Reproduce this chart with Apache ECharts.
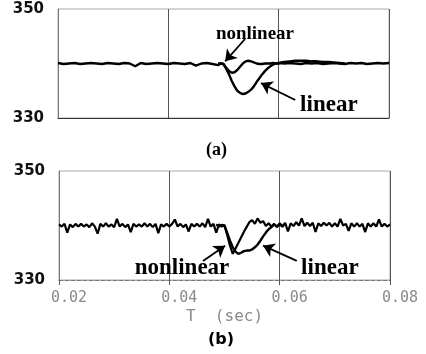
<!DOCTYPE html>
<html><head><meta charset="utf-8">
<script src="https://cdn.jsdelivr.net/npm/echarts@6/dist/echarts.min.js"></script>
<style>html,body{margin:0;padding:0;background:#fff}#c{width:426px;height:354px}</style>
</head><body><div id="c"></div>
<script>
// ---------- data ----------
var xTicks = [0.02, 0.04, 0.06, 0.08];
var yTicks = [330, 350];

// panel (a)
var tA = [0.020,0.021,0.022,0.023,0.024,0.025,0.026,0.027,0.028,0.029,
          0.030,0.031,0.032,0.033,0.034,0.035,0.036,0.037,0.038,0.039,
          0.040,0.041,0.042,0.043,0.044,0.045,0.046,0.047,0.048,0.049,
          0.0495,0.0500,0.0505,0.0510,0.0515,0.0520,0.0525,0.0530,0.0535,0.0540,
          0.0545,0.0550,0.0555,0.0560,0.0565,0.0570,0.0575,0.0580,0.0585,0.0590,
          0.0595,0.0600,0.0605,0.0610,
          0.062,0.063,0.064,0.065,0.066,0.067,0.068,0.069,0.070,0.071,
          0.072,0.073,0.074,0.075,0.076,0.077,0.078,0.079,0.080];
var nonlinA = [340.1,339.9,340.0,340.1,339.9,340.0,340.1,340.0,339.9,340.1,
               340.0,339.9,340.1,340.0,339.5,340.1,339.9,340.0,340.1,340.0,
               339.9,340.1,340.0,339.9,340.1,339.6,340.0,340.1,339.9,339.7,
               340.0,339.9,339.2,338.6,338.3,338.4,338.8,339.4,340.0,340.4,
               340.5,340.4,340.2,340.0,339.9,339.9,340.0,340.0,340.0,340.1,
               340.0,340.0,340.1,340.0,
               340.1,340.0,339.9,340.1,340.0,340.1,339.9,340.0,340.1,340.0,
               339.9,340.1,340.0,340.1,339.9,340.0,340.1,340.0,340.1];
var tLinA = [0.0490,0.0495,0.0500,0.0505,0.0510,0.0515,0.0520,0.0525,0.0530,0.0535,
             0.0540,0.0545,0.0550,0.0555,0.0560,0.0565,0.0570,0.0575,0.0580,0.0585,
             0.0590,0.0595,0.0600,0.0605,0.0610,
             0.062,0.063,0.064,0.065,0.066,0.067,0.068,0.069,0.070,0.071,0.072];
var linA = [340.0,340.0,339.9,339.0,338.0,336.8,335.8,335.0,334.6,334.4,
            334.5,334.8,335.2,335.8,336.6,337.3,338.0,338.6,339.1,339.5,
            339.8,340.0,340.1,340.2,340.3,
            340.4,340.5,340.5,340.5,340.4,340.4,340.3,340.3,340.2,340.1,340.0];

// panel (b)
var tB = [0.0200,0.0205,0.0210,0.0215,0.0220,0.0225,0.0230,0.0235,0.0240,0.0245,
          0.0250,0.0255,0.0260,0.0265,0.0270,0.0275,0.0280,0.0285,0.0290,0.0295,
          0.0300,0.0305,0.0310,0.0315,0.0320,0.0325,0.0330,0.0335,0.0340,0.0345,
          0.0350,0.0355,0.0360,0.0365,0.0370,0.0375,0.0380,0.0385,0.0390,0.0395,
          0.0400,0.0405,0.0410,0.0415,0.0420,0.0425,0.0430,0.0435,0.0440,0.0445,
          0.0450,0.0455,0.0460,0.0465,0.0470,0.0475,0.0480,0.0485,0.0490,0.0495,
          0.0500,0.0505,0.0510,0.0515,0.0520,0.0525,0.0530,0.0535,0.0540,0.0545,
          0.0550,0.0555,0.0560,0.0565,0.0570,0.0575,0.0580,0.0585,0.0590,0.0595,
          0.0600,0.0605,0.0610,0.0615,0.0620,0.0625,0.0630,0.0635,0.0640,0.0645,
          0.0650,0.0655,0.0660,0.0665,0.0670,0.0675,0.0680,0.0685,0.0690,0.0695,
          0.0700,0.0705,0.0710,0.0715,0.0720,0.0725,0.0730,0.0735,0.0740,0.0745,
          0.0750,0.0755,0.0760,0.0765,0.0770,0.0775,0.0780,0.0785,0.0790,0.0795,
          0.0800];
var nonlinB = [340.2,339.8,340.3,338.7,340.2,339.7,340.3,339.8,340.3,339.8,
               340.2,339.7,340.4,339.8,338.5,340.3,339.8,340.4,339.8,340.2,
               339.7,341.2,339.8,340.3,339.7,340.2,338.8,340.3,339.8,340.2,
               339.8,340.4,339.8,340.3,339.7,340.3,338.6,340.2,339.8,340.3,
               339.8,340.3,341.1,339.8,340.3,339.7,340.2,338.9,340.3,339.8,
               340.3,339.8,340.4,339.7,341.2,339.8,340.3,338.7,340.2,339.8,
               340.0,338.2,336.3,334.8,335.8,336.8,337.8,338.8,339.7,340.6,
               341.0,340.3,341.3,340.5,340.8,339.9,340.4,339.8,340.3,339.7,
               340.4,339.8,340.5,338.9,340.4,339.9,340.6,340.0,341.3,339.9,
               340.5,339.9,340.5,338.8,340.4,339.9,340.5,340.0,340.5,339.8,
               340.4,339.8,341.2,340.0,340.3,339.0,340.4,339.8,340.4,339.8,
               340.3,338.8,340.4,339.8,340.4,339.8,341.1,339.8,340.3,339.8,
               340.2];
var tLinB = [0.0485,0.0490,0.0495,0.0500,0.0505,0.0510,0.0515,0.0520,0.0525,0.0530,
             0.0535,0.0540,0.0545,0.0550,0.0555,0.0560,0.0565,0.0570,0.0575,0.0580,
             0.0585,0.0590,0.0595,0.0600,0.0605,0.0610];
var linB = [340.2,339.8,340.1,340.0,338.6,337.2,336.0,335.2,334.8,335.0,
            335.3,335.4,335.4,335.6,336.0,336.5,337.2,338.0,338.7,339.3,
            339.7,340.2,339.8,340.3,339.8,340.4];

// annotation anchors (data coordinates): [label, t, v, size]
var notesA = [['nonlinear', 0.0557, 345.4, 19], ['linear', 0.0691, 332.4, 23]];
var notesB = [['nonlinear', 0.0423, 332.2, 23], ['linear', 0.0691, 332.2, 23]];
// arrows: [tStart, vStart, tEnd, vEnd]
var arrowsA = [[0.0539, 344.5, 0.0503, 340.4], [0.0630, 333.3, 0.0568, 336.4]];
var arrowsB = [[0.0461, 333.5, 0.0501, 336.3], [0.0631, 333.5, 0.0570, 336.3]];

function pairs(t, v) { return t.map(function (x, i) { return [x, v[i]]; }); }
function arrowLines(a) {
  return a.map(function (r) { return [{ coord: [r[0], r[1]] }, { coord: [r[2], r[3]] }]; });
}
function notePoints(n) {
  return n.map(function (r) {
    return { coord: [r[1], r[2]], symbol: 'rect', symbolSize: 1,
      itemStyle: { color: 'rgba(0,0,0,0)' },
      label: { show: true, position: 'inside', formatter: r[0], color: '#000',
        fontFamily: 'Liberation Serif', fontWeight: 'bold', fontSize: r[3] } };
  });
}

var chart = echarts.init(document.getElementById('c'));
var yLabel = { show: true, fontFamily: 'DejaVu Sans', fontWeight: 'bold', fontSize: 15,
  color: '#111', margin: 14, customValues: yTicks };
function xAxisCfg(gi, showLabels) {
  return {
    type: 'value', gridIndex: gi, min: 0.02, max: 0.08, interval: 0.02,
    axisLine: { show: true, onZero: false, lineStyle: { color: gi === 0 ? '#333' : '#777', width: 1, type: gi === 0 ? 'solid' : 'dashed' } },
    axisTick: { show: gi === 1, length: 5, lineStyle: { color: '#555' } },
    splitLine: { show: true, lineStyle: { color: '#555', width: 1 } },
    axisLabel: { show: showLabels, fontFamily: 'DejaVu Sans Mono', fontSize: 15, color: '#8a8a8a',
      margin: 11, padding: [0, 0, 0, 20], formatter: function (v) { return v.toFixed(2); } },
    name: showLabels ? 'T  (sec)' : '', nameLocation: 'middle', nameGap: 29,
    nameTextStyle: { fontFamily: 'DejaVu Sans Mono', fontSize: 16, color: '#8a8a8a' }
  };
}
function yAxisCfg(gi) {
  return {
    type: 'value', gridIndex: gi, min: 330, max: 350, interval: 20,
    axisLine: { show: true, lineStyle: { color: '#777', width: 1 } },
    axisTick: { show: false },
    splitLine: { show: false },
    axisLabel: yLabel
  };
}
var lineCommon = { type: 'line', showSymbol: false, symbol: 'none', smooth: false,
  lineStyle: { color: '#000', width: 2.4 }, animation: false, z: 5 };
var mlCommon = { silent: true, symbol: ['none', 'arrow'], symbolSize: 11,
  lineStyle: { color: '#000', width: 1.8, type: 'solid' }, label: { show: false }, animation: false };

chart.setOption({
  animation: false,
  backgroundColor: '#fff',
  grid: [
    { left: 58, top: 9, width: 331, height: 109, show: true, borderColor: '#aaa', borderWidth: 1 },
    { left: 59, top: 171, width: 331, height: 109, show: true, borderColor: '#aaa', borderWidth: 1 }
  ],
  xAxis: [xAxisCfg(0, false), xAxisCfg(1, true)],
  yAxis: [yAxisCfg(0), yAxisCfg(1)],
  graphic: [
    { type: 'text', left: 222 - 16, top: 141, style: { text: '(a)', fontFamily: 'Liberation Serif', fontWeight: 'bold', fontSize: 18, fill: '#000' } },
    { type: 'text', left: 223 - 15, top: 332, style: { text: '(b)', fontFamily: 'DejaVu Sans', fontWeight: 'bold', fontSize: 16, fill: '#000' } }
  ],
  series: [
    Object.assign({}, lineCommon, { name: 'nonlinear (a)', xAxisIndex: 0, yAxisIndex: 0, data: pairs(tA, nonlinA),
      markLine: Object.assign({}, mlCommon, { data: arrowLines(arrowsA) }),
      markPoint: { silent: true, animation: false, data: notePoints(notesA) } }),
    Object.assign({}, lineCommon, { name: 'linear (a)', xAxisIndex: 0, yAxisIndex: 0, data: pairs(tLinA, linA) }),
    Object.assign({}, lineCommon, { name: 'nonlinear (b)', xAxisIndex: 1, yAxisIndex: 1, data: pairs(tB, nonlinB),
      lineStyle: { color: '#000', width: 2.2 },
      markLine: Object.assign({}, mlCommon, { data: arrowLines(arrowsB) }),
      markPoint: { silent: true, animation: false, data: notePoints(notesB) } }),
    Object.assign({}, lineCommon, { name: 'linear (b)', xAxisIndex: 1, yAxisIndex: 1, data: pairs(tLinB, linB) })
  ]
});
</script></body></html>
